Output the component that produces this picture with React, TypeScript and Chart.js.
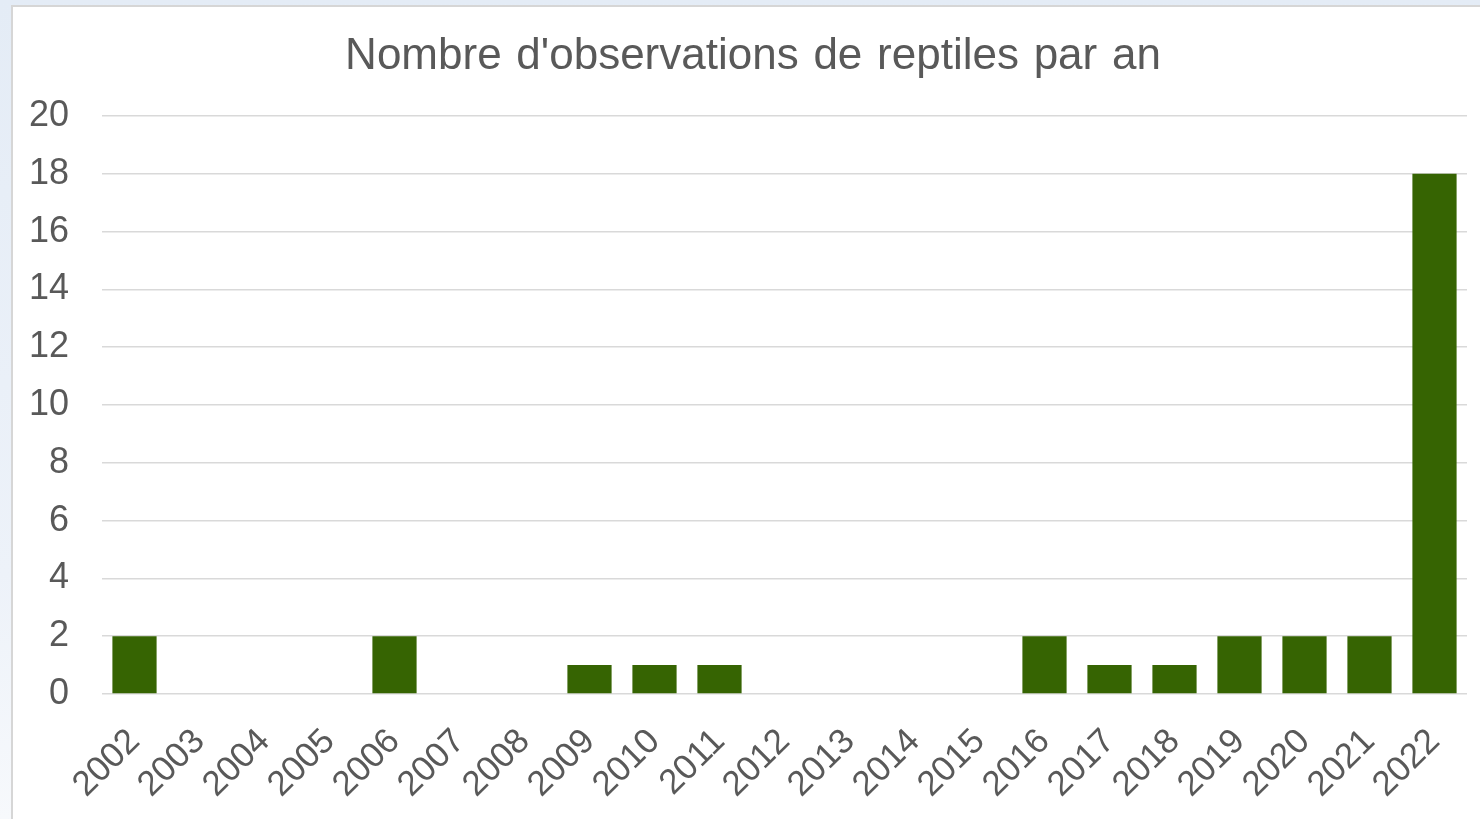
import React, { useEffect, useRef } from "react";
import { Chart, registerables } from "chart.js";

Chart.register(...registerables);

const years = [
  "2002", "2003", "2004", "2005", "2006", "2007", "2008", "2009", "2010", "2011",
  "2012", "2013", "2014", "2015", "2016", "2017", "2018", "2019", "2020", "2021", "2022",
];
const observations = [2, 0, 0, 0, 2, 0, 0, 1, 1, 1, 0, 0, 0, 0, 2, 1, 1, 2, 2, 2, 18];
const yMin = 0;
const yMax = 20;
const yStep = 2;
const titleText = "Nombre d'observations de reptiles par an";

const FONT = "'Liberation Sans', Arial, sans-serif";
const TEXT = "#595959";

const titlePlugin = {
  id: "customTitle",
  afterDraw(chart: any) {
    const ctx = chart.ctx as CanvasRenderingContext2D;
    ctx.save();
    ctx.font = `normal 44px ${FONT}`;
    ctx.fillStyle = TEXT;
    ctx.textAlign = "center";
    ctx.textBaseline = "alphabetic";
    try {
      (ctx as any).wordSpacing = "2.5px";
    } catch (e) {}
    ctx.fillText(titleText, 753, 69);
    ctx.restore();
  },
};

export default function App() {
  const ref = useRef<HTMLCanvasElement | null>(null);

  useEffect(() => {
    if (!ref.current) return;
    const chart = new Chart(ref.current, {
      type: "bar",
      data: {
        labels: years,
        datasets: [
          {
            label: "Observations",
            data: observations,
            backgroundColor: "#366402",
            borderWidth: 0,
            categoryPercentage: 1,
            barPercentage: 0.68,
          },
        ],
      },
      options: {
        animation: false,
        responsive: false,
        maintainAspectRatio: false,
        layout: { padding: { left: 0, right: 13, top: 116, bottom: 0 } },
        plugins: {
          legend: { display: false },
          tooltip: { enabled: false },
          title: { display: false },
        },
        scales: {
          x: {
            grid: { display: false, drawTicks: false },
            border: { display: false },
            ticks: {
              color: TEXT,
              font: { family: FONT, size: 35 },
              minRotation: 45,
              maxRotation: 45,
              autoSkip: false,
              padding: 27,
            },
            afterFit: (scale: any) => {
              scale.height = 125;
              scale.paddingLeft = 0;
              scale.paddingRight = 0;
            },
          },
          y: {
            min: yMin,
            max: yMax,
            grid: { color: "#d9d9d9", lineWidth: 1.5, drawTicks: false },
            border: { display: false },
            ticks: {
              stepSize: yStep,
              color: TEXT,
              font: { family: FONT, size: 36 },
              padding: 33,
            },
            afterFit: (scale: any) => {
              scale.width = 102;
            },
          },
        },
      },
      plugins: [titlePlugin],
    });
    return () => chart.destroy();
  }, []);

  return (
    <div
      style={{
        position: "fixed",
        left: 0,
        top: 0,
        width: 1480,
        height: 819,
        background: "linear-gradient(180deg, #e4ecf6 0%, #edf2f9 70%, #f7f9fc 100%)",
        overflow: "hidden",
      }}
    >
      <div
        style={{
          position: "absolute",
          left: 11,
          top: 5,
          right: 0,
          bottom: 0,
          background: "#ffffff",
          borderLeft: "2px solid #d6d6d6",
          borderTop: "2px solid #d6d6d6",
        }}
      />
      <canvas
        ref={ref}
        width={1480}
        height={819}
        style={{ position: "absolute", left: 0, top: 0, width: 1480, height: 819 }}
      />
    </div>
  );
}
